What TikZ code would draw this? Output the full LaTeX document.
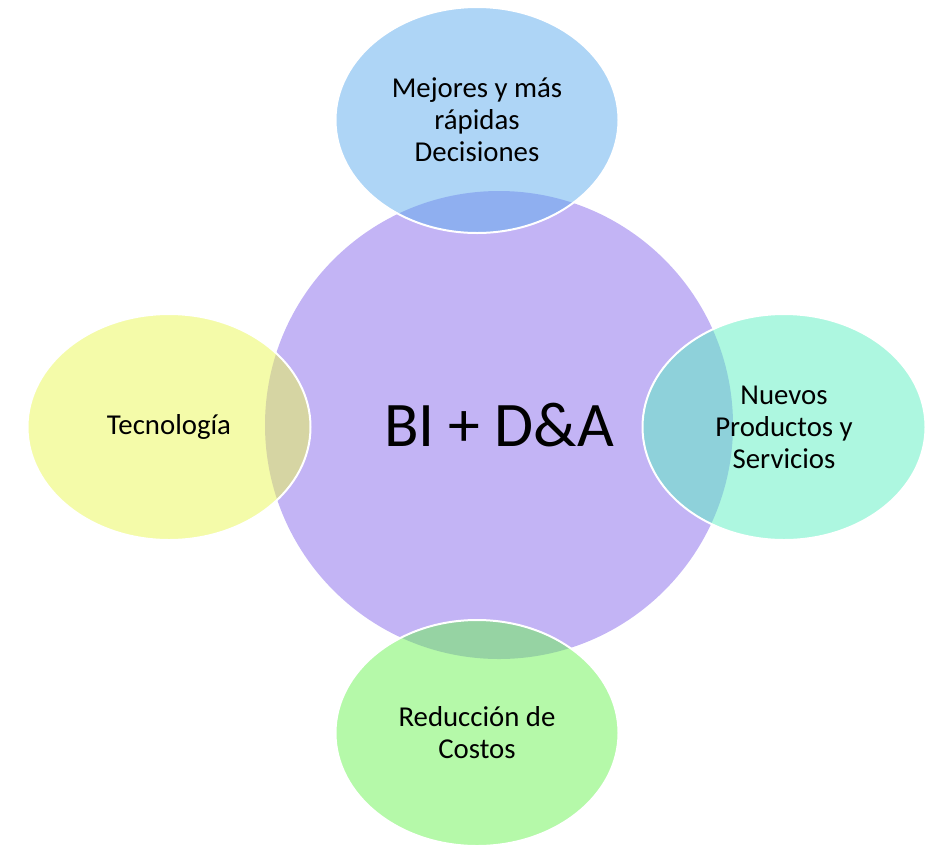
\documentclass[tikz,border=0pt]{standalone}
\usepackage{fontspec}
\setmainfont{Carlito}
\usetikzlibrary{shapes.geometric}
\definecolor{cpurple}{RGB}{195,180,245}
\definecolor{cblue}{RGB}{93,171,237}
\definecolor{cyellow}{RGB}{233,247,83}
\definecolor{caqua}{RGB}{91,239,193}
\definecolor{cgreen}{RGB}{107,243,83}
\tikzset{
  hub/.style={circle, fill=cpurple, minimum size=468pt, inner sep=0pt,
    font=\fontsize{63.5}{76}\selectfont},
  sat/.style={ellipse, draw=white, line width=2pt, fill opacity=0.5,
    draw opacity=1, text opacity=1, minimum width=283pt, minimum height=226pt,
    inner sep=0pt, align=center, text=black, font=\fontsize{28.8}{32}\selectfont}
}
\begin{document}
\begin{tikzpicture}[x=1pt,y=-1pt]
\useasboundingbox (0,0) rectangle (925,846);
\node[hub] (hub) at (499,425) {BI + D\&A};
\node[sat, fill=cblue] (top) at (477,120) {Mejores y más\\rápidas\\Decisiones};
\node[sat, fill=cyellow] (left) at (169,427) {Tecnología};
\node[sat, fill=caqua] (right) at (784,427) {Nuevos\\Productos y\\Servicios};
\node[sat, fill=cgreen] (bottom) at (477,733) {Reducción de\\Costos};
\end{tikzpicture}
\end{document}
